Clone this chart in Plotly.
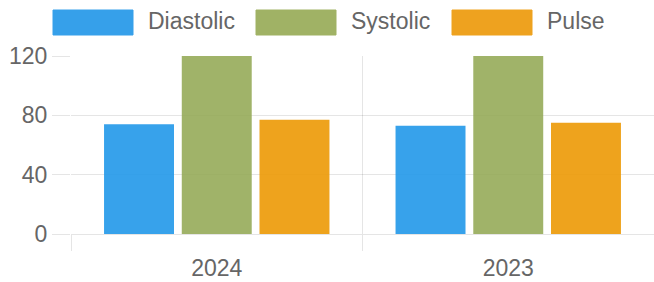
import plotly.graph_objects as go

categories = ["2024", "2023"]
diastolic = [74, 73]
systolic = [120, 120]
pulse = [77, 75]
series_names = ["Diastolic", "Systolic", "Pulse"]
colors = ["rgba(38,154,233,0.92)", "rgba(147,168,84,0.88)", "rgba(237,155,10,0.92)"]
legend_colors = ["#36A0EA", "#A0B265", "#EEA21F"]
y_ticks = [0, 40, 80, 120]

FONT = "Liberation Sans, Arial, sans-serif"
GRID = "rgba(0,0,0,0.1)"

fig = go.Figure()
for name, vals, col in zip(series_names, [diastolic, systolic, pulse], colors):
    fig.add_trace(go.Bar(x=categories, y=vals, name=name,
                         marker=dict(color=col, line=dict(width=0))))

fig.update_layout(
    width=654, height=282,
    margin=dict(l=71, r=0, t=56, b=48),
    paper_bgcolor="white", plot_bgcolor="white",
    barmode="group", bargap=0.2, bargroupgap=0.1,
    showlegend=False,
    font=dict(family=FONT, size=23, color="#666"),
)
fig.update_xaxes(type="category", tickson="boundaries", ticks="outside", ticklen=16,
                 tickcolor=GRID, showgrid=True, gridcolor=GRID, gridwidth=1,
                 showline=False, zeroline=False, automargin=False,
                 ticklabelstandoff=18,
                 tickfont=dict(family=FONT, size=23, color="#666"))
fig.update_yaxes(range=[0, 120], tickvals=y_ticks, ticks="outside", ticklen=18,
                 tickcolor=GRID, showgrid=True, gridcolor=GRID, gridwidth=1,
                 zeroline=True, zerolinecolor=GRID, zerolinewidth=1, showline=False,
                 automargin=False,
                 tickfont=dict(family=FONT, size=23, color="#666"))

# legend drawn with boxes and labels in paper space (pixel layout converted)
PL, PW, PB, PH = 71, 583, 234, 178
legend_x = [53, 256, 452]
for i, (name, col) in enumerate(zip(series_names, legend_colors)):
    fig.add_shape(type="rect", xref="paper", yref="paper",
                  x0=(legend_x[i] - PL) / PW, x1=(legend_x[i] + 80 - PL) / PW,
                  y0=(PB - 35) / PH, y1=(PB - 10) / PH,
                  fillcolor=col, line=dict(color=col, width=1), layer="above")
    fig.add_annotation(text=name, xref="paper", yref="paper",
                       x=(legend_x[i] + 93 - PL) / PW, y=(PB - 21) / PH,
                       xanchor="left", yanchor="middle", showarrow=False,
                       font=dict(family=FONT, size=23, color="#666"))

fig.write_html("out.html",
               config={"displayModeBar": False},
               post_script="document.body.style.margin='0';document.body.style.overflow='hidden';")
